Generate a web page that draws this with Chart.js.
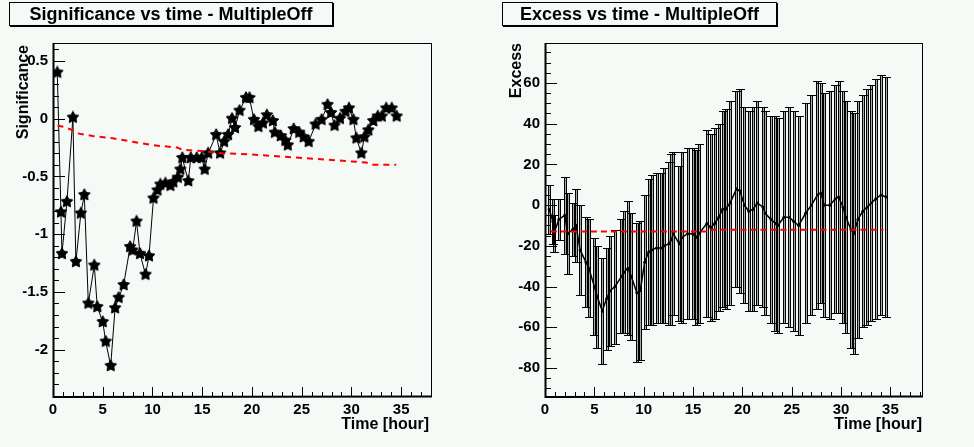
<!DOCTYPE html>
<html>
<head>
<meta charset="utf-8">
<script src="https://cdn.jsdelivr.net/npm/chart.js@4.4.1/dist/chart.umd.min.js"></script>
<style>
  html, body { margin: 0; padding: 0; background: #f6faf7; }
  #wrap { position: relative; width: 974px; height: 447px; overflow: hidden;
          font-family: "Liberation Sans", Arial, Helvetica, sans-serif; font-weight: bold; color: #000; }
  canvas { position: absolute; top: 0; }
  #sigCanvas { left: 0; }
  #excCanvas { left: 487px; }
  .title { position: absolute; top: 2px; height: 22px; border: 1px solid #000; box-shadow: 1px 1px 0 #000;
           font-size: 18px; line-height: 23px; text-align: center; white-space: nowrap; }
  .xtitle { position: absolute; top: 416px; width: 200px; text-align: right; font-size: 16px; line-height: 16px; white-space: nowrap; }
  .ytitle { position: absolute; width: 300px; text-align: right; font-size: 16px; line-height: 16px; white-space: nowrap;
            transform-origin: left top; transform: rotate(-90deg); }
</style>
</head>
<body>
<div id="wrap">
  <canvas id="sigCanvas" width="487" height="447"></canvas>
  <canvas id="excCanvas" width="487" height="447"></canvas>
  <div class="title" style="left:9px;width:322px;">Significance vs time - MultipleOff</div>
  <div class="title" style="left:502px;width:273px;">Excess vs time - MultipleOff</div>
  <div class="ytitle" style="left:15px;top:345px;">Significance</div>
  <div class="ytitle" style="left:508px;top:343px;">Excess</div>
  <div class="xtitle" style="left:229px;">Time [hour]</div>
  <div class="xtitle" style="left:722px;">Time [hour]</div>
</div>
<script>
// time of each point [hour]
const times = [0.43, 0.8, 0.9, 1.4, 2.0, 2.3, 2.8, 3.15, 3.55, 4.15, 4.45, 5.0, 5.3, 5.8, 6.24, 6.6, 7.1, 7.75, 8.0, 8.4,
  8.75, 9.3, 9.65, 10.1, 10.5, 10.8, 11.3, 11.8, 12.1, 12.55, 12.8, 13.0, 13.6, 13.85, 14.45, 14.95, 15.25, 15.6, 16.4, 16.8,
  17.2, 17.6, 18.0, 18.3, 18.75, 19.4, 19.75, 20.2, 20.65, 21.1, 21.5, 22.1, 22.3, 22.9, 23.35, 23.6, 24.2, 24.75, 25.2, 25.7,
  26.4, 27.0, 27.6, 27.95, 28.3, 28.85, 29.4, 29.75, 30.2, 30.5, 31.0, 31.3, 31.7, 32.2, 32.65, 33.05, 33.5, 34.05, 34.55];

const significance = [0.40, -0.81, -1.17, -0.72, 0.01, -1.24, -0.82, -0.66, -1.60, -1.27, -1.63, -1.76, -1.93, -2.14, -1.64, -1.55, -1.44, -1.11, -1.14, -0.89,
  -1.17, -1.35, -1.19, -0.69, -0.62, -0.57, -0.56, -0.58, -0.55, -0.51, -0.44, -0.34, -0.54, -0.34, -0.34, -0.34, -0.44, -0.30, -0.14, -0.30,
  -0.20, -0.14, 0.00, -0.08, 0.07, 0.18, 0.18, -0.01, -0.07, -0.04, 0.03, -0.02, -0.12, -0.15, -0.19, -0.23, -0.09, -0.12, -0.16, -0.20,
  -0.05, -0.01, 0.12, 0.05, -0.06, 0.00, 0.06, 0.09, -0.01, -0.17, -0.30, -0.16, -0.10, -0.02, 0.02, 0.02, 0.09, 0.09, 0.02];

const excess = [-2, -8, -14, -7, -5, -14, -12, -10, -22, -28, -31, -40, -45, -52, -46, -42, -40, -35, -33, -31,
  -35, -43, -42, -28, -23, -22, -21, -21, -20, -19, -17, -14, -19, -16, -14, -14, -16, -14, -9, -11,
  -9, -6, -2, -2, 1, 8, 7, 0, -3, -2, 1, -1, -4, -7, -9, -10, -6, -6, -8, -10,
  -4, 0, 5, 6, 0, 0, 3, 4, -1, -6, -12, -14, -7, -3, -1, 1, 3, 5, 4];

const excessErr = [12, 11, 9, 10, 19, 20, 13, 18, 22, 22, 24, 24, 25, 26, 25, 27, 28, 28, 30, 33,
  31, 34, 34, 33, 36, 37, 37, 37, 38, 40, 42, 40, 38, 42, 42, 42, 43, 44, 46, 46,
  47, 46, 48, 49, 50, 48, 50, 48, 49, 50, 50, 49, 50, 51, 53, 53, 52, 54, 54, 54,
  54, 54, 56, 54, 55, 56, 56, 57, 57, 57, 58, 59, 58, 57, 58, 58, 59, 59, 59];

// red dashed reference curves
const sigRefTimes = [0.45, 1.0, 2.0, 2.6, 4.0, 6.0, 8.0, 10.0, 12.5, 13.0, 15.0, 17.0, 20.0, 25.0, 30.0, 31.5, 32.0, 34.5];
const sigRef = [-0.06, -0.07, -0.10, -0.13, -0.15, -0.17, -0.20, -0.23, -0.25, -0.27, -0.28, -0.30, -0.31, -0.34, -0.37, -0.38, -0.40, -0.40];
const excRefTimes = [0.6, 16.6, 16.9, 34.3];
const excRef = [-12.9, -12.9, -12.1, -12.1];

const timeTicks = [0, 5, 10, 15, 20, 25, 30, 35];
const sigTicks = [0.5, 0, -0.5, -1, -1.5, -2];
const excTicks = [60, 40, 20, 0, -20, -40, -60, -80];

const FONT = { family: '"Liberation Sans", Arial, Helvetica, sans-serif', weight: 'bold', size: 15 };

function makeStar() {
  const c = document.createElement('canvas');
  c.width = 14; c.height = 14;
  const g = c.getContext('2d');
  g.fillStyle = '#000';
  g.strokeStyle = '#000';
  g.lineWidth = 1;
  g.beginPath();
  for (let i = 0; i < 10; i++) {
    const r = i % 2 === 0 ? 6.2 : 3.2;
    const a = -Math.PI / 2 + i * Math.PI / 5;
    const px = 7 + r * Math.cos(a), py = 7 + r * Math.sin(a);
    if (i === 0) g.moveTo(px, py); else g.lineTo(px, py);
  }
  g.closePath();
  g.fill();
  g.stroke();
  return c;
}

function range(from, to, step) {
  const out = [];
  for (let v = from; v <= to + 1e-9; v += step) out.push(Math.round(v * 1000) / 1000);
  return out;
}

const rootFrame = {
  id: 'rootFrame',
  afterDraw(chart, args, opts) {
    const { ctx, chartArea: a, scales: { x, y } } = chart;
    ctx.save();
    ctx.strokeStyle = '#000';
    ctx.lineWidth = 1;
    ctx.strokeRect(a.left + 0.5, a.top + 0.5, a.right - a.left - 1, a.bottom - a.top - 1);
    ctx.lineWidth = 2;
    ctx.beginPath();
    ctx.moveTo(a.left + 0.5, a.top);
    ctx.lineTo(a.left + 0.5, a.bottom);
    ctx.lineTo(a.right, a.bottom - 0.5);
    ctx.stroke();

    ctx.lineWidth = 1;
    ctx.beginPath();
    opts.xMinor.forEach(v => {
      const px = Math.round(x.getPixelForValue(v)) + 0.5;
      if (px < a.left || px > a.right) return;
      const len = timeTicks.includes(v) ? 10 : 5;
      ctx.moveTo(px, a.bottom);
      ctx.lineTo(px, a.bottom - len);
    });
    opts.yMinor.forEach(v => {
      const py = Math.round(y.getPixelForValue(v)) + 0.5;
      if (py < a.top || py > a.bottom) return;
      const len = opts.yMajor.includes(v) ? 12 : 6;
      ctx.moveTo(a.left, py);
      ctx.lineTo(a.left + len, py);
    });
    ctx.stroke();
    ctx.restore();
  }
};

const errorBars = {
  id: 'errorBars',
  beforeDatasetsDraw(chart, args, opts) {
    if (!opts.errors) return;
    const { ctx, chartArea: a, scales: { x, y } } = chart;
    ctx.save();
    ctx.beginPath();
    ctx.rect(a.left, a.top, a.right - a.left, a.bottom - a.top);
    ctx.clip();
    const bars = opts.times.map((t, i) => ({
      px: Math.round(x.getPixelForValue(t)),
      top: Math.round(y.getPixelForValue(opts.values[i] + opts.errors[i])) + 0.5,
      bot: Math.round(y.getPixelForValue(opts.values[i] - opts.errors[i])) + 0.5
    }));
    // light core of each bar
    ctx.fillStyle = '#a8aca9';
    bars.forEach(b => ctx.fillRect(b.px - 1, b.top, 3, b.bot - b.top));
    ctx.strokeStyle = '#000';
    ctx.lineWidth = 1;
    ctx.beginPath();
    bars.forEach(b => {
      ctx.moveTo(b.px - 0.5, b.top); ctx.lineTo(b.px - 0.5, b.bot);
      ctx.moveTo(b.px + 1.5, b.top); ctx.lineTo(b.px + 1.5, b.bot);
      ctx.moveTo(b.px - 4, b.top); ctx.lineTo(b.px + 5, b.top);
      ctx.moveTo(b.px - 4, b.bot); ctx.lineTo(b.px + 5, b.bot);
    });
    ctx.stroke();
    ctx.restore();
  }
};

function axisOptions(min, max, tickValues, fitKey, fitSize, padding) {
  return {
    type: 'linear', min, max,
    grid: { display: false, drawTicks: false, tickLength: 0 }, border: { display: false },
    afterFit: s => { s[fitKey] = fitSize; },
    afterBuildTicks: s => { s.ticks = tickValues.map(v => ({ value: v })); },
    ticks: { padding, color: '#000', font: FONT, maxRotation: 0, autoSkip: false, callback: v => String(v) }
  };
}

function toPoints(xs, ys) {
  return xs.map((t, i) => ({ x: t, y: ys[i] }));
}

const common = {
  responsive: false, animation: false, events: [],
  plugins: { legend: { display: false }, tooltip: { enabled: false } }
};

new Chart(document.getElementById('sigCanvas'), {
  type: 'scatter',
  data: {
    datasets: [
      { data: toPoints(sigRefTimes, sigRef), showLine: true, borderColor: '#ff0000', borderWidth: 2, borderDash: [6, 5], pointRadius: 0 },
      { data: toPoints(times, significance), showLine: true, borderColor: '#000', borderWidth: 1,
        pointStyle: makeStar(), pointRadius: 6 }
    ]
  },
  options: {
    ...common,
    layout: { padding: { left: 0, top: 43, right: 55, bottom: 0 }, autoPadding: false },
    plugins: { ...common.plugins, rootFrame: { xMinor: range(0, 38, 1), yMinor: range(-2.4, 0.6, 0.1), yMajor: sigTicks } },
    scales: {
      x: axisOptions(0, 38.1, timeTicks, 'height', 50, 4),
      y: axisOptions(-2.41, 0.655, sigTicks, 'width', 53, 5)
    }
  },
  plugins: [rootFrame]
});

new Chart(document.getElementById('excCanvas'), {
  type: 'scatter',
  data: {
    datasets: [
      { data: toPoints(excRefTimes, excRef), showLine: true, borderColor: '#ff0000', borderWidth: 2, borderDash: [6, 4], pointRadius: 0 },
      { data: toPoints(times, excess), showLine: true, borderColor: '#000', borderWidth: 1.5,
        pointRadius: 1.5, pointBackgroundColor: '#000', pointBorderWidth: 0 }
    ]
  },
  options: {
    ...common,
    layout: { padding: { left: 0, top: 43, right: 51, bottom: 0 }, autoPadding: false },
    plugins: { ...common.plugins,
      rootFrame: { xMinor: range(0, 38, 1), yMinor: range(-90, 75, 5), yMajor: excTicks },
      errorBars: { times, values: excess, errors: excessErr } },
    scales: {
      x: axisOptions(0, 38.3, timeTicks, 'height', 50, 4),
      y: axisOptions(-94.2, 79.6, excTicks, 'width', 58, 5)
    }
  },
  plugins: [rootFrame, errorBars]
});
</script>
</body>
</html>
